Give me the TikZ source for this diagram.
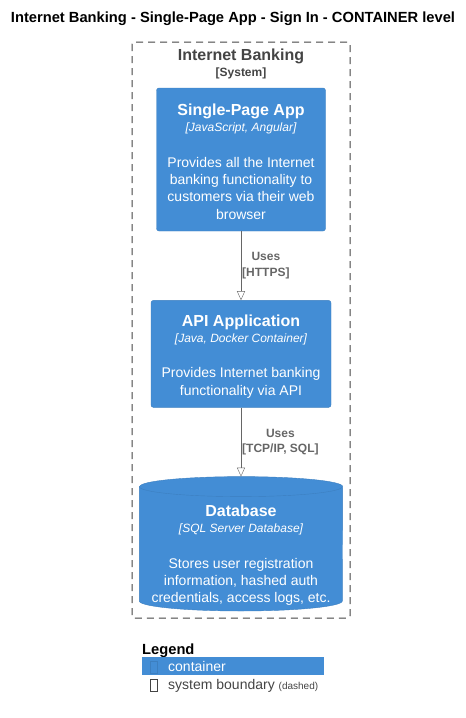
\documentclass[tikz,border=0pt]{standalone}
\usepackage{fontspec}
\setmainfont{Liberation Sans}
\usetikzlibrary{arrows.meta, positioning}
\usepackage{xcolor}

\definecolor{containerblue}{HTML}{438DD5}
\definecolor{containerborder}{HTML}{3C7FC0}
\definecolor{boundarygray}{HTML}{444444}
\definecolor{relgray}{HTML}{666666}

\newcommand{\namefont}{\fontsize{16}{18}\selectfont\bfseries}
\newcommand{\technfont}{\fontsize{12}{14}\selectfont\itshape}
\newcommand{\descfont}{\fontsize{14}{17.4}\selectfont}

\begin{document}
\begin{tikzpicture}[
x=1pt, y=-1pt,
node distance=69pt,
container/.style={draw=containerborder,
fill=containerblue,
rectangle,
rounded corners=2.5pt,
inner sep=0pt},
dbbox/.style={rectangle,
minimum width=203pt,
minimum height=134pt,
inner sep=0pt},
boxtext/.style={text=white,
font=\descfont,
align=center,
inner sep=0pt},
arrow/.style={-{Triangle[open, length=9pt, width=8pt]}, draw=relgray},
rellabel/.style={right, inner sep=1pt, text=relgray, align=center,
font=\fontsize{12}{15.5}\selectfont\bfseries}
]

\useasboundingbox (0,0) rectangle (466,718);

\node[font=\fontsize{14.7}{16}\selectfont\bfseries] (title) at (233,19) {Internet Banking - Single-Page App - Sign In - CONTAINER level};

% system boundary
\draw[boundarygray, line width=1pt, dash pattern=on 7pt off 5pt, rounded corners=2pt] (132,42) rectangle (350,618);
\node[text=boundarygray, font=\fontsize{16}{18}\selectfont\bfseries] (sysname) at (241,56) {Internet Banking};
\node[text=boundarygray, font=\fontsize{12}{14}\selectfont\bfseries, below=-3pt of sysname] (systype) {[System]};

% containers
\node[container, minimum width=169pt, minimum height=143pt] (spa) at (241,159.5) {};
\node[container, minimum width=180pt, minimum height=107pt, below=of spa] (api) {};
\node[dbbox, below=of api] (db) {};

% database cylinder
\filldraw[draw=containerborder, fill=containerblue]
([yshift=-10pt]db.north west) -- ([yshift=10pt]db.south west)
arc[start angle=180, end angle=360, x radius=101.5pt, y radius=10pt]
-- ([yshift=-10pt]db.north east)
arc[start angle=0, end angle=180, x radius=101.5pt, y radius=10pt] -- cycle;
\draw[containerborder] ([yshift=-10pt]db.north west)
arc[start angle=180, end angle=360, x radius=101.5pt, y radius=10pt];

\node[boxtext, below=15.7pt of spa.north] (spatext) {{\namefont Single-Page App}\\[-1pt]
{\technfont [JavaScript, Angular]}\\[18pt]
Provides all the Internet\\
banking functionality to\\
customers via their web\\
browser};
\node[boxtext, below=14.2pt of api.north] (apitext) {{\namefont API Application}\\[-1pt]
{\technfont [Java, Docker Container]}\\[18pt]
Provides Internet banking\\
functionality via API};
\node[boxtext, below=27.9pt of db.north] (dbtext) {{\namefont Database}\\[-1pt]
{\technfont [SQL Server Database]}\\[18pt]
Stores user registration\\
information, hashed auth\\
credentials, access logs, etc.};

\draw[arrow] (spa) -- node[rellabel] {Uses\\{[HTTPS]}} (api);
\draw[arrow] (api) -- node[rellabel] {Uses\\{[TCP/IP, SQL]}} (db);

% legend
\node[anchor=base west, inner sep=0pt, font=\fontsize{14.7}{16}\selectfont\bfseries] (legend) at (142,654) {Legend};
\node[fill=containerblue, anchor=north west, minimum width=182pt, minimum height=18pt, inner sep=0pt] (legbar) at (142,657) {};
\node[draw=containerborder, minimum width=7pt, minimum height=12pt, inner sep=0pt] (legbox1) at (154,667) {};
\node[anchor=base west, inner sep=0pt, text=white, font=\descfont] (legcontainer) at (168,671) {container};
\node[draw=boundarygray, minimum width=7pt, minimum height=12pt, inner sep=0pt] (legbox2) at (154,685) {};
\node[anchor=base west, inner sep=0pt, text=boundarygray, font=\descfont] (legboundary) at (168,689) {system boundary {\fontsize{10}{12}\selectfont(dashed)}};

\end{tikzpicture}
\end{document}
